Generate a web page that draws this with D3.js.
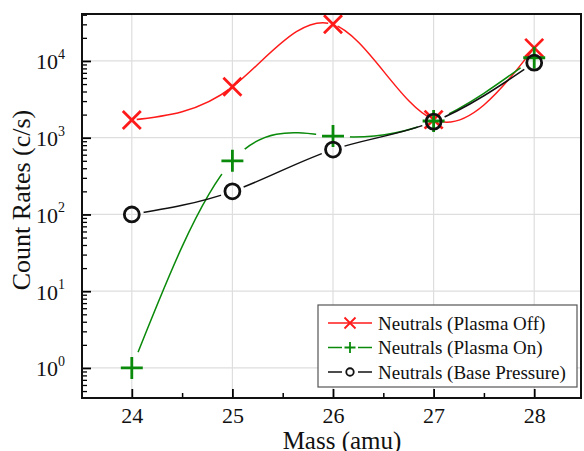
<!DOCTYPE html>
<html>
<head>
<meta charset="utf-8">
<script src="https://cdn.jsdelivr.net/npm/d3@7"></script>
<style>
  body { margin: 0; background: #fff; }
  svg { display: block; font-family: "Liberation Serif", "Times New Roman", serif; }
</style>
</head>
<body>
<svg id="chart" width="584" height="451"></svg>
<script>
// data
var masses = [24, 25, 26, 27, 28];
var plasmaOff = [1700, 4600, 30000, 1720, 14800];
var plasmaOn = [1, 500, 1050, 1650, 11000];
var basePressure = [100, 200, 700, 1620, 9500];
var seriesNames = ["Neutrals (Plasma Off)", "Neutrals (Plasma On)", "Neutrals (Base Pressure)"];
var xTicks = [24, 25, 26, 27, 28];
var yTicks = [1, 10, 100, 1000, 10000];

var plot = { left: 82, right: 581, top: 14, bottom: 398 };

var svg = d3.select('#chart');

var x = d3.scaleLinear()
    .domain([23.505, 28.465])
    .range([plot.left, plot.right]);

var y = d3.scaleLog()
    .domain([0.406, 40900])
    .range([plot.bottom, plot.top]);

var series = [
  { name: seriesNames[0], values: plasmaOff, color: '#ff1a1a', symbol: 'x', gap: 5 },
  { name: seriesNames[1], values: plasmaOn, color: '#0a8a0a', symbol: 'plus', gap: 17 },
  { name: seriesNames[2], values: basePressure, color: '#111', symbol: 'circle', gap: 12 }
];

// grid
svg.append('g').selectAll('line.gx')
    .data(xTicks)
  .enter().append('line')
    .attr('x1', function(d) { return x(d); })
    .attr('x2', function(d) { return x(d); })
    .attr('y1', plot.top).attr('y2', plot.bottom)
    .attr('stroke', '#dedede').attr('stroke-width', 1.2);

svg.append('g').selectAll('line.gy')
    .data(yTicks)
  .enter().append('line')
    .attr('x1', plot.left).attr('x2', plot.right)
    .attr('y1', function(d) { return y(d); })
    .attr('y2', function(d) { return y(d); })
    .attr('stroke', '#dedede').attr('stroke-width', 1.2);

// minor ticks
var xMinor = d3.range(23.5, 28.6, 1).filter(function(d) { return d > 23.51 && d < 28.46; });
var yMinor = [];
[-1, 0, 1, 2, 3, 4].forEach(function(e) {
  for (var k = 2; k <= 9; k++) {
    var v = k * Math.pow(10, e);
    if (v > 0.406 && v < 40900) yMinor.push(v);
  }
});

svg.append('g')
    .attr('transform', `translate(0, ${plot.bottom})`)
    .call(d3.axisBottom(x).tickValues(xMinor).tickSize(-5).tickFormat(''))
    .call(function(g) { g.select('.domain').remove(); })
    .selectAll('line').attr('stroke', '#000').attr('stroke-width', 1.5);

svg.append('g')
    .attr('transform', `translate(${plot.left}, 0)`)
    .call(d3.axisLeft(y).tickValues(yMinor).tickSize(-5).tickFormat(''))
    .call(function(g) { g.select('.domain').remove(); })
    .selectAll('line').attr('stroke', '#000').attr('stroke-width', 1.3);

// major axes
var xAxis = svg.append('g')
    .attr('transform', `translate(0, ${plot.bottom})`)
    .call(d3.axisBottom(x).tickValues(xTicks).tickSize(-9).tickPadding(9).tickFormat(d3.format('d')));
xAxis.select('.domain').remove();
xAxis.selectAll('line').attr('stroke', '#000').attr('stroke-width', 1.8);
xAxis.selectAll('text')
    .attr('font-size', 22).attr('font-family', '"Liberation Serif", serif').attr('fill', '#111');

var yAxis = svg.append('g')
    .attr('transform', `translate(${plot.left}, 0)`)
    .call(d3.axisLeft(y).tickValues(yTicks).tickSize(-9).tickPadding(18).tickFormat(''));
yAxis.select('.domain').remove();
yAxis.selectAll('line').attr('stroke', '#000').attr('stroke-width', 1.8);
yAxis.selectAll('.tick text').each(function(d) {
  var t = d3.select(this)
      .attr('font-size', 22).attr('font-family', '"Liberation Serif", serif').attr('fill', '#111')
      .attr('dy', '0.36em').attr('x', -17).attr('text-anchor', 'end');
  t.append('tspan').text('10');
  t.append('tspan').attr('font-size', 14).attr('dy', '-0.75em').text(Math.round(Math.log10(d)));
});

// lines with gaps around own symbols
var line = d3.line()
    .x(function(d) { return x(d[0]); })
    .y(function(d) { return y(d[1]); })
    .curve(d3.curveNatural);

var defs = svg.append('defs');
series.forEach(function(s, i) {
  var pts = masses.map(function(m, j) { return [m, s.values[j]]; });
  var mask = defs.append('mask').attr('id', 'gap' + i);
  mask.append('rect').attr('x', 0).attr('y', 0).attr('width', 584).attr('height', 451).attr('fill', '#fff');
  mask.selectAll('circle').data(pts).enter().append('circle')
      .attr('cx', function(d) { return x(d[0]); })
      .attr('cy', function(d) { return y(d[1]); })
      .attr('r', s.gap).attr('fill', '#000');
  s.pts = pts;
});

function drawSymbol(g, s, cx, cy, size, sw) {
  if (s.symbol === 'x') {
    g.append('path')
        .attr('d', `M${cx - size},${cy - size}L${cx + size},${cy + size}M${cx - size},${cy + size}L${cx + size},${cy - size}`)
        .attr('stroke', s.color).attr('stroke-width', sw).attr('fill', 'none');
  } else if (s.symbol === 'plus') {
    var p = size * 1.22;
    g.append('path')
        .attr('d', `M${cx - p},${cy}L${cx + p},${cy}M${cx},${cy - p}L${cx},${cy + p}`)
        .attr('stroke', s.color).attr('stroke-width', sw).attr('fill', 'none');
  } else {
    g.append('circle')
        .attr('cx', cx).attr('cy', cy).attr('r', size * 0.83)
        .attr('stroke', s.color).attr('stroke-width', sw).attr('fill', 'none');
  }
}

series.forEach(function(s, i) {
  svg.append('path')
      .datum(s.pts)
      .attr('d', line)
      .attr('fill', 'none')
      .attr('stroke', s.color)
      .attr('stroke-width', 1.5)
      .attr('mask', 'url(#gap' + i + ')');
});

series.forEach(function(s) {
  var g = svg.append('g');
  s.pts.forEach(function(p) {
    drawSymbol(g, s, x(p[0]), y(p[1]), 9, 2.8);
  });
});

// frame
svg.append('rect')
    .attr('x', plot.left).attr('y', plot.top)
    .attr('width', plot.right - plot.left).attr('height', plot.bottom - plot.top)
    .attr('fill', 'none').attr('stroke', '#111').attr('stroke-width', 2);

// axis titles
svg.append('text')
    .attr('x', 342).attr('y', 449)
    .attr('text-anchor', 'middle')
    .attr('font-size', 25).attr('fill', '#111')
    .text('Mass (amu)');

svg.append('text')
    .attr('transform', 'translate(30, 200) rotate(-90)')
    .attr('text-anchor', 'middle')
    .attr('font-size', 26).attr('fill', '#111')
    .text('Count Rates (c/s)');

// legend
var legend = svg.append('g').attr('transform', 'translate(318, 305)');
legend.append('rect')
    .attr('width', 259).attr('height', 82)
    .attr('fill', '#fff').attr('stroke', '#555').attr('stroke-width', 1.2);

series.forEach(function(s, i) {
  var ly = 18 + i * 24.5;
  var row = legend.append('g');
  if (s.symbol === 'x') {
    row.append('line').attr('x1', 10).attr('x2', 54).attr('y1', ly).attr('y2', ly)
        .attr('stroke', s.color).attr('stroke-width', 1.5);
  } else {
    row.append('line').attr('x1', 10).attr('x2', 24).attr('y1', ly).attr('y2', ly)
        .attr('stroke', s.color).attr('stroke-width', 1.5);
    row.append('line').attr('x1', 40).attr('x2', 54).attr('y1', ly).attr('y2', ly)
        .attr('stroke', s.color).attr('stroke-width', 1.5);
  }
  drawSymbol(row, s, 32, ly, s.symbol === 'x' ? 5.5 : 4.5, 1.8);
  row.append('text')
      .attr('x', 60).attr('y', ly).attr('dy', '0.35em')
      .attr('font-size', 19).attr('fill', '#111')
      .text(s.name);
});
</script>
</body>
</html>
